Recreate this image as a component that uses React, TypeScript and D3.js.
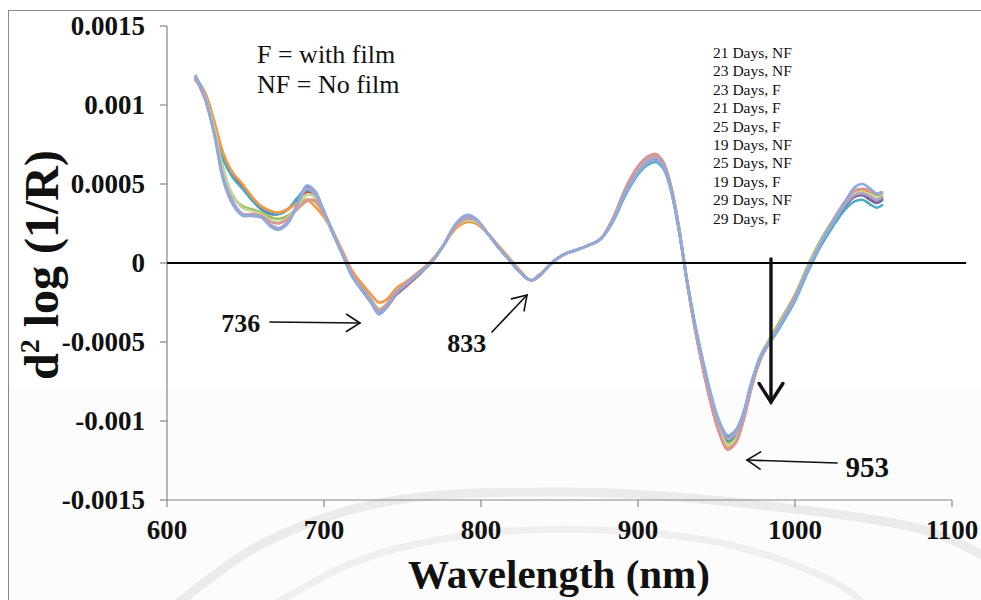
import React from "react";
import * as d3 from "d3";

// wavelength grid (nm)
const WL = [618, 624, 630, 636, 642, 648, 654, 660, 666, 671, 677, 683, 689, 694, 700, 706, 712, 718, 724, 730, 735, 740, 746, 752, 760, 768, 776, 784, 791, 797, 804, 811, 818, 825, 832, 838, 845, 852, 860, 868, 876, 884, 892, 900, 906, 911, 916, 921, 926, 931, 936, 941, 946, 951, 957, 962, 967, 972, 978, 985, 992, 1000, 1008, 1016, 1024, 1032, 1038, 1043, 1048, 1052, 1056];

// values in units of 1e-4 (d2 log(1/R))
const S_21NF = [11.7, 10.8, 8.9, 6.6, 5.5, 4.8, 4.0, 3.4, 3.1, 3.1, 3.4, 4.1, 4.7, 4.4, 3.2, 1.8, 0.5, -0.8, -1.7, -2.5, -3.1, -2.7, -1.9, -1.4, -0.7, 0.0, 1.1, 2.4, 2.9, 2.7, 1.9, 1.0, 0.2, -0.6, -1.1, -0.7, 0.0, 0.5, 0.8, 1.1, 1.5, 2.7, 4.5, 5.8, 6.4, 6.6, 6.2, 4.7, 2.2, -1.0, -3.8, -6.2, -8.4, -10.1, -11.3, -11.0, -9.8, -7.9, -6.0, -4.8, -3.7, -2.3, -0.5, 1.1, 2.4, 3.6, 4.2, 4.3, 4.0, 3.8, 4.0];
const S_23NF = [11.6, 10.7, 8.9, 6.7, 5.6, 4.9, 4.1, 3.5, 3.2, 3.1, 3.4, 4.0, 4.5, 4.3, 3.2, 1.9, 0.6, -0.8, -1.7, -2.5, -3.2, -2.8, -2.0, -1.5, -0.8, 0.0, 1.1, 2.3, 2.85, 2.7, 1.9, 1.0, 0.2, -0.6, -1.1, -0.75, 0.0, 0.5, 0.8, 1.1, 1.5, 2.8, 4.7, 6.1, 6.7, 6.9, 6.4, 4.8, 2.2, -1.1, -4.0, -6.5, -8.7, -10.5, -11.8, -11.4, -10.0, -8.0, -6.1, -4.8, -3.6, -2.2, -0.5, 1.1, 2.5, 3.7, 4.3, 4.4, 4.2, 4.0, 4.2];
const S_23F = [11.9, 10.6, 8.5, 5.9, 4.2, 3.6, 3.4, 3.2, 2.9, 2.8, 3.0, 3.5, 4.0, 3.9, 3.1, 1.9, 0.6, -0.6, -1.5, -2.3, -2.9, -2.6, -1.8, -1.3, -0.6, 0.1, 1.1, 2.3, 2.6, 2.5, 1.9, 1.1, 0.3, -0.5, -1.1, -0.7, 0.0, 0.5, 0.8, 1.1, 1.5, 2.7, 4.5, 5.9, 6.5, 6.7, 6.3, 4.8, 2.3, -1.0, -3.9, -6.3, -8.5, -10.3, -11.4, -11.1, -9.8, -7.8, -5.9, -4.6, -3.4, -2.0, -0.2, 1.4, 2.7, 3.9, 4.5, 4.6, 4.5, 4.3, 4.4];
const S_21F = [11.8, 10.5, 8.3, 5.3, 3.8, 3.1, 3.0, 2.9, 2.4, 2.2, 2.6, 3.7, 4.8, 4.5, 3.2, 1.8, 0.5, -0.8, -1.6, -2.4, -3.1, -2.7, -1.9, -1.4, -0.7, 0.0, 1.1, 2.4, 2.9, 2.7, 1.9, 1.0, 0.2, -0.6, -1.1, -0.7, 0.0, 0.5, 0.8, 1.1, 1.5, 2.7, 4.5, 5.8, 6.4, 6.6, 6.2, 4.7, 2.2, -1.0, -3.8, -6.1, -8.2, -9.9, -11.0, -10.7, -9.6, -7.7, -5.9, -4.8, -3.7, -2.3, -0.5, 1.1, 2.4, 3.6, 4.2, 4.3, 4.0, 3.8, 4.1];
const S_25F = [11.7, 10.8, 8.8, 6.5, 5.4, 4.7, 4.0, 3.5, 3.2, 3.1, 3.4, 4.1, 4.6, 4.4, 3.2, 1.9, 0.5, -0.8, -1.6, -2.4, -3.0, -2.7, -1.9, -1.4, -0.7, 0.0, 1.1, 2.4, 2.8, 2.6, 1.9, 1.0, 0.2, -0.6, -1.1, -0.7, 0.0, 0.5, 0.8, 1.1, 1.5, 2.6, 4.3, 5.6, 6.2, 6.4, 6.0, 4.6, 2.1, -1.0, -3.8, -6.2, -8.3, -10.0, -11.1, -10.8, -9.7, -7.8, -6.0, -4.9, -3.8, -2.4, -0.6, 1.0, 2.3, 3.4, 3.9, 4.0, 3.7, 3.5, 3.7];
const S_19NF = [11.6, 10.8, 9.0, 6.9, 5.7, 5.0, 4.2, 3.6, 3.3, 3.2, 3.4, 3.8, 4.0, 3.6, 2.9, 1.9, 0.7, -0.5, -1.3, -2.0, -2.5, -2.3, -1.6, -1.2, -0.6, 0.1, 1.1, 2.2, 2.6, 2.5, 1.9, 1.1, 0.3, -0.5, -1.1, -0.7, 0.0, 0.5, 0.8, 1.1, 1.5, 2.8, 4.6, 6.0, 6.6, 6.8, 6.3, 4.8, 2.3, -1.0, -3.9, -6.4, -8.7, -10.5, -11.7, -11.3, -9.9, -7.9, -6.0, -4.8, -3.6, -2.1, -0.4, 1.2, 2.6, 3.9, 4.5, 4.6, 4.5, 4.4, 4.5];
const S_25NF = [11.8, 10.6, 8.6, 5.8, 4.3, 3.5, 3.3, 3.1, 2.7, 2.6, 2.9, 3.6, 4.3, 4.2, 3.1, 1.8, 0.5, -0.7, -1.6, -2.4, -2.9, -2.6, -1.8, -1.3, -0.7, 0.0, 1.1, 2.4, 2.7, 2.6, 1.9, 1.0, 0.2, -0.6, -1.1, -0.7, 0.0, 0.5, 0.8, 1.1, 1.5, 2.7, 4.5, 5.9, 6.5, 6.7, 6.3, 4.8, 2.3, -1.0, -3.9, -6.3, -8.5, -10.3, -11.5, -11.2, -9.9, -7.9, -6.0, -4.7, -3.5, -2.1, -0.3, 1.3, 2.6, 3.8, 4.4, 4.5, 4.3, 4.1, 4.3];
const S_19F = [11.7, 10.4, 8.2, 5.2, 3.7, 3.1, 3.1, 3.0, 2.6, 2.5, 2.8, 3.4, 3.9, 4.0, 3.1, 1.9, 0.6, -0.7, -1.6, -2.4, -3.0, -2.6, -1.8, -1.3, -0.6, 0.0, 1.1, 2.4, 2.8, 2.7, 1.9, 1.0, 0.2, -0.6, -1.1, -0.7, 0.0, 0.5, 0.8, 1.1, 1.5, 2.8, 4.7, 6.1, 6.7, 6.9, 6.4, 4.9, 2.3, -1.1, -4.0, -6.5, -8.7, -10.5, -11.8, -11.4, -10.0, -8.0, -6.0, -4.8, -3.6, -2.1, -0.4, 1.2, 2.6, 3.9, 4.6, 4.7, 4.6, 4.4, 4.5];
const S_29NF = [11.8, 10.5, 8.3, 5.4, 3.9, 3.1, 3.0, 2.9, 2.4, 2.2, 2.6, 3.7, 4.7, 4.4, 3.2, 1.8, 0.5, -0.8, -1.6, -2.4, -3.1, -2.7, -1.9, -1.4, -0.7, 0.0, 1.1, 2.4, 2.9, 2.7, 1.9, 1.0, 0.2, -0.6, -1.1, -0.7, 0.0, 0.5, 0.8, 1.1, 1.5, 2.7, 4.5, 5.8, 6.5, 6.7, 6.2, 4.7, 2.2, -1.0, -3.8, -6.2, -8.3, -10.0, -11.1, -10.8, -9.7, -7.8, -6.0, -4.8, -3.6, -2.2, -0.4, 1.2, 2.5, 3.7, 4.3, 4.4, 4.2, 4.0, 4.2];
const S_29F = [11.9, 10.5, 8.2, 5.2, 3.7, 3.0, 3.0, 2.9, 2.3, 2.1, 2.5, 3.7, 4.9, 4.6, 3.3, 1.8, 0.5, -0.9, -1.7, -2.5, -3.25, -2.8, -1.9, -1.4, -0.7, 0.0, 1.1, 2.5, 3.05, 2.8, 1.9, 1.0, 0.2, -0.6, -1.1, -0.7, 0.0, 0.5, 0.8, 1.1, 1.5, 2.6, 4.4, 5.7, 6.3, 6.5, 6.1, 4.6, 2.1, -1.0, -3.7, -6.0, -8.1, -9.8, -10.9, -10.6, -9.5, -7.6, -5.9, -4.8, -3.7, -2.3, -0.5, 1.2, 2.6, 3.9, 4.8, 5.0, 4.7, 4.4, 4.5];

const SERIES_NAMES = ["21 Days, NF", "23 Days, NF", "23 Days, F", "21 Days, F", "25 Days, F", "19 Days, NF", "25 Days, NF", "19 Days, F", "29 Days, NF", "29 Days, F"];
const SERIES_VALUES = [S_21NF, S_23NF, S_23F, S_21F, S_25F, S_19NF, S_25NF, S_19F, S_29NF, S_29F];
const SERIES_COLORS = ["#4F81BD", "#C0504D", "#9BBB59", "#8064A2", "#4BACC6", "#F79646", "#C3D69B", "#D99694", "#B3A2C7", "#8FAADC"];

const X_TICKS = [600, 700, 800, 900, 1000, 1100];
const Y_TICKS = [-15, -10, -5, 0, 5, 10, 15];
const Y_TICK_LABELS = ["-0.0015", "-0.001", "-0.0005", "0", "0.0005", "0.001", "0.0015"];

// annotation positions in data units
const PEAK_LABELS = [
  { text: "736", x: 647, y: -4.37, from: [665.6, -3.73], to: [722.9, -3.8], size: 26 },
  { text: "833", x: 791, y: -5.63, from: [807, -4.37], to: [829.3, -2.03], size: 26 },
  { text: "953", x: 1046, y: -13.55, from: [1026.8, -12.66], to: [969.4, -12.47], size: 29 },
];
const TREND_ARROW = { x: 984.7, y1: 0.25, y2: -8.8 };

const FONT = "'Liberation Serif', 'Times New Roman', serif";

function Arrow({ x1, y1, x2, y2, head, width }: { x1: number; y1: number; x2: number; y2: number; head: number; width: number }) {
  const ang = Math.atan2(y2 - y1, x2 - x1);
  const spread = Math.PI / 5.5;
  const ax = x2 - head * Math.cos(ang - spread);
  const ay = y2 - head * Math.sin(ang - spread);
  const bx = x2 - head * Math.cos(ang + spread);
  const by = y2 - head * Math.sin(ang + spread);
  return (
    <g stroke="#111" strokeWidth={width} fill="none" strokeLinecap="round" strokeLinejoin="miter">
      <line x1={x1} y1={y1} x2={x2} y2={y2} />
      <polyline points={`${ax},${ay} ${x2},${y2} ${bx},${by}`} />
    </g>
  );
}

export default function App() {
  const W = 981;
  const H = 600;
  const x = d3.scaleLinear().domain([600, 1100]).range([167, 952]);
  const y = d3.scaleLinear().domain([-15, 15]).range([500, 26]);
  const line = d3
    .line<number>()
    .x((_, i) => x(WL[i]))
    .y((d) => y(d))
    .curve(d3.curveCatmullRom.alpha(0.5));

  const wmOuter = d3.line().curve(d3.curveCatmullRom.alpha(0.5))([
    [170, 610], [260, 545], [380, 503], [565, 492], [760, 505], [935, 533], [990, 560],
  ] as [number, number][]);
  const wmInner = d3.line().curve(d3.curveCatmullRom.alpha(0.5))([
    [265, 610], [360, 560], [470, 535], [600, 530], [730, 545], [840, 585], [870, 610],
  ] as [number, number][]);

  return (
    <svg width={W} height={H} style={{ position: "absolute", left: 0, top: 0, background: "#fff" }} fontFamily={FONT}>
      <rect x={0} y={0} width={W} height={H} fill="#fff" />
      <rect x={8} y={388} width={W} height={H - 388} fill="#fcfcfc" />
      <path d={wmOuter || ""} fill="none" stroke="#ebebeb" strokeWidth={9} />
      <path d={wmInner || ""} fill="none" stroke="#efefef" strokeWidth={7} />
      <rect x={8.5} y={10.5} width={W + 10} height={H + 10} fill="none" stroke="#8a8a8a" strokeWidth={1} />

      {/* axes */}
      <line x1={x(600)} y1={y(-15)} x2={x(600)} y2={y(15)} stroke="#868686" strokeWidth={1.2} />
      <line x1={x(600)} y1={y(-15)} x2={x(1100)} y2={y(-15)} stroke="#868686" strokeWidth={1.2} />
      {Y_TICKS.map((t, i) => (
        <g key={"yt" + t}>
          <line x1={x(600) - 7} x2={x(600)} y1={y(t)} y2={y(t)} stroke="#868686" strokeWidth={1.2} />
          <text x={145} y={y(t) + 8.5} textAnchor="end" fontSize={27} fontWeight="bold" fill="#111">
            {Y_TICK_LABELS[i]}
          </text>
        </g>
      ))}
      {X_TICKS.map((t) => (
        <g key={"xt" + t}>
          <line x1={x(t)} x2={x(t)} y1={y(-15)} y2={y(-15) + 7} stroke="#868686" strokeWidth={1.2} />
          <text x={x(t)} y={539} textAnchor="middle" fontSize={27} fontWeight="bold" fill="#111">
            {t}
          </text>
        </g>
      ))}

      {/* series */}
      {SERIES_VALUES.map((vals, k) => (
        <path key={SERIES_NAMES[k]} d={line(vals) || ""} fill="none" stroke={SERIES_COLORS[k]} strokeWidth={2.6} strokeLinejoin="round" />
      ))}

      {/* zero line */}
      <line x1={x(600)} x2={x(1109)} y1={y(0)} y2={y(0)} stroke="#000" strokeWidth={2} />

      {/* titles */}
      <text x={559} y={588} textAnchor="middle" fontSize={41} fontWeight="bold" fill="#111">
        Wavelength (nm)
      </text>
      <text transform="translate(58,265) rotate(-90)" textAnchor="middle" fontSize={48} fontWeight="bold" fill="#111">
        d<tspan fontSize={28} dy={-19}>2</tspan>
        <tspan dy={19}> log (1/R)</tspan>
      </text>

      {/* note */}
      <text x={257} y={63} fontSize={26} fill="#111">F = with film</text>
      <text x={257} y={93} fontSize={26} fill="#111">NF = No film</text>

      {/* legend */}
      {SERIES_NAMES.map((n, i) => (
        <text key={"lg" + n} x={713} y={58 + i * 18.4} fontSize={15.5} fill="#111">
          {n}
        </text>
      ))}

      {/* annotations */}
      {PEAK_LABELS.map((p) => (
        <g key={p.text}>
          <text x={x(p.x)} y={y(p.y)} textAnchor="middle" fontSize={p.size} fontWeight="bold" fill="#111">
            {p.text}
          </text>
          <Arrow x1={x(p.from[0])} y1={y(p.from[1])} x2={x(p.to[0])} y2={y(p.to[1])} head={16} width={1.6} />
        </g>
      ))}
      <Arrow x1={x(TREND_ARROW.x)} y1={y(TREND_ARROW.y1)} x2={x(TREND_ARROW.x)} y2={y(TREND_ARROW.y2)} head={22} width={3.4} />
    </svg>
  );
}
